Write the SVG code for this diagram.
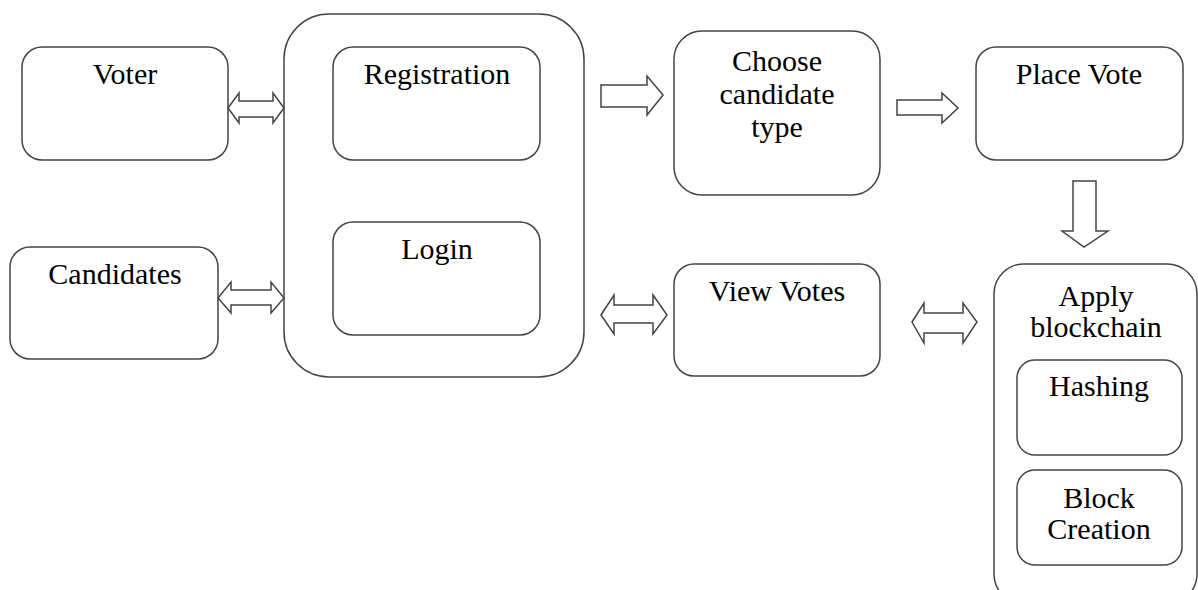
<svg xmlns="http://www.w3.org/2000/svg" width="1198" height="590" viewBox="0 0 1198 590">
<style>
.box{fill:#fff;stroke:#444;stroke-width:1.5}
.arr{fill:#fff;stroke:#444;stroke-width:1.5;stroke-linejoin:miter}
text{font-family:"Liberation Serif","Times New Roman",serif;font-size:30px;fill:#000;text-anchor:middle}
</style>
<rect width="1198" height="590" fill="#fff"/>
<g id="voter"><rect class="box" x="22" y="47" width="206" height="113" rx="20"/><text x="125" y="84">Voter</text></g>
<g id="candidates"><rect class="box" x="10" y="247" width="208" height="112" rx="20"/><text x="115" y="284">Candidates</text></g>
<g id="auth"><rect class="box" x="284" y="14" width="300" height="363" rx="45"/>
<g id="registration"><rect class="box" x="333" y="47" width="207" height="113" rx="20"/><text x="437" y="84">Registration</text></g>
<g id="login"><rect class="box" x="333" y="222" width="207" height="113" rx="20"/><text x="437" y="259">Login</text></g>
</g>
<g id="choose"><rect class="box" x="674" y="31" width="206" height="164" rx="28"/><text x="777" y="71">Choose</text><text x="777" y="104">candidate</text><text x="777" y="137">type</text></g>
<g id="placevote"><rect class="box" x="976" y="47" width="207" height="113" rx="20"/><text x="1079" y="84">Place Vote</text></g>
<g id="viewvotes"><rect class="box" x="674" y="264" width="206" height="112" rx="20"/><text x="777" y="301">View Votes</text></g>
<g id="blockchain"><rect class="box" x="994" y="264" width="203" height="340" rx="30"/><text x="1096" y="306">Apply</text><text x="1096" y="337">blockchain</text>
<g id="hashing"><rect class="box" x="1017" y="360" width="165" height="95" rx="18"/><text x="1099" y="396">Hashing</text></g>
<g id="blockcreation"><rect class="box" x="1017" y="470" width="165" height="95" rx="18"/><text x="1099" y="508">Block</text><text x="1099" y="539">Creation</text></g>
</g>
<g id="connectors">
<polygon class="arr" points="228,108 239,93 239,101 273,101 273,93 284,108 273,123 273,117 239,117 239,123"/>
<polygon class="arr" points="218,298 231,282 231,290 271,290 271,282 284,298 271,313 271,305 231,305 231,313"/>
<polygon class="arr" points="601,85 647,85 647,76 663,95 647,115 647,107 601,107"/>
<polygon class="arr" points="897,100 942,100 942,93 958,108 942,123 942,115 897,115"/>
<polygon class="arr" points="1073,181 1096,181 1096,231 1108,231 1084,247 1062,231 1073,231"/>
<polygon class="arr" points="601,315 614,295 614,305 653,305 653,295 667,315 653,334 653,323 614,323 614,334"/>
<polygon class="arr" points="912,322 924,303 924,313 963,313 963,303 977,322 963,343 963,333 924,333 924,343"/>
</g>
</svg>
